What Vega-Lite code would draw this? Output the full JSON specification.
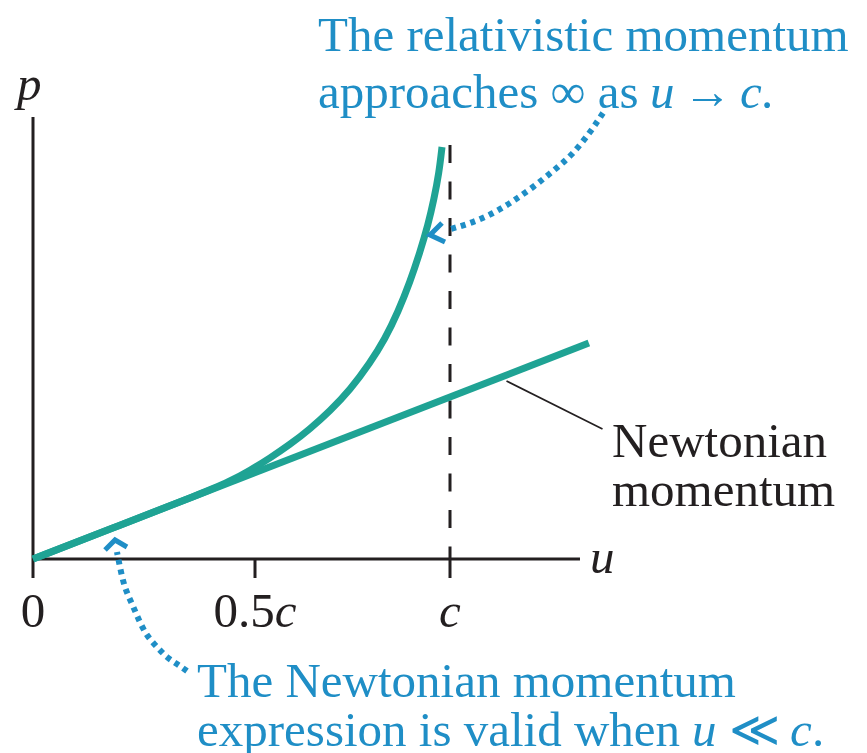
{
  "$schema": "https://vega.github.io/schema/vega-lite/v6.json",
  "width": 867,
  "height": 753,
  "autosize": "none",
  "padding": 0,
  "background": "white",
  "config": {"view": {"stroke": null}},
  "datasets": {
    "curves": [
      {"g": "relativistic", "i": 1, "u": 0, "p": 0},
      {"g": "relativistic", "i": 2, "u": 0.1959, "p": 0.21125},
      {"g": "relativistic", "i": 3, "u": 0.3761, "p": 0.4056},
      {"g": "relativistic", "i": 4, "u": 0.4437, "p": 0.4844},
      {"g": "relativistic", "i": 5, "u": 0.4887, "p": 0.5531},
      {"g": "relativistic", "i": 6, "u": 0.5385, "p": 0.63125},
      {"g": "relativistic", "i": 7, "u": 0.5897, "p": 0.7156},
      {"g": "relativistic", "i": 8, "u": 0.641, "p": 0.8125},
      {"g": "relativistic", "i": 9, "u": 0.6923, "p": 0.925},
      {"g": "relativistic", "i": 10, "u": 0.7436, "p": 1.05625},
      {"g": "relativistic", "i": 11, "u": 0.7949, "p": 1.225},
      {"g": "relativistic", "i": 12, "u": 0.8333, "p": 1.375},
      {"g": "relativistic", "i": 13, "u": 0.8667, "p": 1.54375},
      {"g": "relativistic", "i": 14, "u": 0.8974, "p": 1.73125},
      {"g": "relativistic", "i": 15, "u": 0.9231, "p": 1.91875},
      {"g": "relativistic", "i": 16, "u": 0.9436, "p": 2.0875},
      {"g": "relativistic", "i": 17, "u": 0.959, "p": 2.25},
      {"g": "relativistic", "i": 18, "u": 0.9718, "p": 2.4125},
      {"g": "relativistic", "i": 19, "u": 0.9795, "p": 2.575},
      {"g": "newtonian", "i": 1, "u": 0, "p": 0},
      {"g": "newtonian", "i": 2, "u": 1.356, "p": 1.35}
    ],
    "axisLines": [
      {"u": 0, "p": 0, "u2": 1.3333, "p2": 0},
      {"u": 0, "p": -0.11875, "u2": 0, "p2": 2.7625},
      {"u": 0.5, "p": 0, "u2": 0.5, "p2": -0.11875},
      {"u": 1, "p": 0, "u2": 1, "p2": -0.11875}
    ],
    "lightSpeed": [
      {"u": 1, "p": 2.5875, "u2": 1, "p2": 0}
    ],
    "leader": [
      {"u": 1.1449, "p": 1.1125, "u2": 1.391, "p2": 0.8125}
    ],
    "dottedPaths": [
      {"g": "top", "i": 1, "u": 1.3923, "p": 2.7875},
      {"g": "top", "i": 2, "u": 1.359, "p": 2.6688},
      {"g": "top", "i": 3, "u": 1.3128, "p": 2.5313},
      {"g": "top", "i": 4, "u": 1.2641, "p": 2.425},
      {"g": "top", "i": 5, "u": 1.2128, "p": 2.325},
      {"g": "top", "i": 6, "u": 1.1615, "p": 2.2375},
      {"g": "top", "i": 7, "u": 1.1103, "p": 2.1625},
      {"g": "top", "i": 8, "u": 1.0513, "p": 2.1},
      {"g": "top", "i": 9, "u": 0.9923, "p": 2.05625},
      {"g": "bottom", "i": 1, "u": 0.3468, "p": -0.7},
      {"g": "bottom", "i": 2, "u": 0.3243, "p": -0.65625},
      {"g": "bottom", "i": 3, "u": 0.3018, "p": -0.6125},
      {"g": "bottom", "i": 4, "u": 0.2793, "p": -0.55},
      {"g": "bottom", "i": 5, "u": 0.2568, "p": -0.475},
      {"g": "bottom", "i": 6, "u": 0.2387, "p": -0.38125},
      {"g": "bottom", "i": 7, "u": 0.223, "p": -0.28125},
      {"g": "bottom", "i": 8, "u": 0.2072, "p": -0.175},
      {"g": "bottom", "i": 9, "u": 0.1959, "p": -0.05},
      {"g": "bottom", "i": 10, "u": 0.1892, "p": 0.04375}
    ],
    "arrowHeads": [
      {"g": "top", "i": 1, "u": 0.9795, "p": 2.1},
      {"g": "top", "i": 2, "u": 0.9487, "p": 2.025},
      {"g": "top", "i": 3, "u": 0.9872, "p": 1.98125},
      {"g": "bottom", "i": 1, "u": 0.1622, "p": 0.05625},
      {"g": "bottom", "i": 2, "u": 0.1847, "p": 0.11875},
      {"g": "bottom", "i": 3, "u": 0.2117, "p": 0.075}
    ],
    "blueRoman": [
      {"t": "The relativistic momentum", "u": 0.6615, "p": 3.175},
      {"t": "approaches ∞ as", "u": 0.6615, "p": 2.81875},
      {"t": "→", "u": 1.5974, "p": 2.81875},
      {"t": ".", "u": 1.7974, "p": 2.81875},
      {"t": "The Newtonian momentum", "u": 0.3694, "p": -0.8625},
      {"t": "expression is valid when", "u": 0.3694, "p": -1.16875},
      {"t": "≪", "u": 1.7154, "p": -1.16875},
      {"t": ".", "u": 1.9282, "p": -1.16875}
    ],
    "blueItalic": [
      {"t": "u", "u": 1.5128, "p": 2.81875},
      {"t": "c", "u": 1.7436, "p": 2.81875},
      {"t": "u", "u": 1.6205, "p": -1.16875},
      {"t": "c", "u": 1.8718, "p": -1.16875}
    ],
    "blackRoman": [
      {"t": "Newtonian", "u": 1.4154, "p": 0.6375},
      {"t": "momentum", "u": 1.4154, "p": 0.33125},
      {"t": "0", "u": -0.0276, "p": -0.425},
      {"t": "0.5", "u": 0.4065, "p": -0.425}
    ],
    "blackItalic": [
      {"t": "p", "u": -0.036, "p": 2.86875},
      {"t": "u", "u": 1.359, "p": -0.0875},
      {"t": "c", "u": 0.5506, "p": -0.425},
      {"t": "c", "u": 0.9721, "p": -0.425}
    ]
  },
  "encoding": {
    "x": {
      "field": "u",
      "type": "quantitative",
      "axis": null,
      "scale": {"domain": [-0.074324, 0.5, 1, 2.069231], "range": [0, 255, 450, 867], "nice": false, "zero": false}
    },
    "y": {
      "field": "p",
      "type": "quantitative",
      "axis": null,
      "scale": {"domain": [-1.2125, 3.49375], "range": [753, 0], "nice": false, "zero": false}
    }
  },
  "layer": [
    {
      "data": {"name": "axisLines"},
      "mark": {"type": "rule", "color": "#231f20", "strokeWidth": 3},
      "encoding": {"x2": {"field": "u2"}, "y2": {"field": "p2"}}
    },
    {
      "data": {"name": "lightSpeed"},
      "mark": {"type": "rule", "color": "#231f20", "strokeWidth": 3, "strokeDash": [18, 18.5]},
      "encoding": {"x2": {"field": "u2"}, "y2": {"field": "p2"}}
    },
    {
      "data": {"name": "leader"},
      "mark": {"type": "rule", "color": "#231f20", "strokeWidth": 1.6},
      "encoding": {"x2": {"field": "u2"}, "y2": {"field": "p2"}}
    },
    {
      "data": {"name": "curves"},
      "mark": {"type": "line", "color": "#1fa394", "strokeWidth": 7, "interpolate": "basis", "strokeCap": "butt"},
      "encoding": {"detail": {"field": "g"}, "order": {"field": "i", "type": "quantitative"}}
    },
    {
      "data": {"name": "dottedPaths"},
      "mark": {"type": "line", "color": "#1f8ec6", "strokeWidth": 6, "interpolate": "natural", "strokeDash": [5, 5], "strokeCap": "butt"},
      "encoding": {"detail": {"field": "g"}, "order": {"field": "i", "type": "quantitative"}}
    },
    {
      "data": {"name": "arrowHeads"},
      "mark": {"type": "line", "color": "#1f8ec6", "strokeWidth": 5, "strokeJoin": "miter", "strokeCap": "butt"},
      "encoding": {"detail": {"field": "g"}, "order": {"field": "i", "type": "quantitative"}}
    },
    {
      "data": {"name": "blueRoman"},
      "mark": {"type": "text", "font": "Liberation Serif", "fontSize": 49, "color": "#1f8ec6", "align": "left", "baseline": "alphabetic"},
      "encoding": {"text": {"field": "t"}}
    },
    {
      "data": {"name": "blueItalic"},
      "mark": {"type": "text", "font": "Liberation Serif", "fontSize": 49, "fontStyle": "italic", "color": "#1f8ec6", "align": "left", "baseline": "alphabetic"},
      "encoding": {"text": {"field": "t"}}
    },
    {
      "data": {"name": "blackRoman"},
      "mark": {"type": "text", "font": "Liberation Serif", "fontSize": 49, "color": "#231f20", "align": "left", "baseline": "alphabetic"},
      "encoding": {"text": {"field": "t"}}
    },
    {
      "data": {"name": "blackItalic"},
      "mark": {"type": "text", "font": "Liberation Serif", "fontSize": 49, "fontStyle": "italic", "color": "#231f20", "align": "left", "baseline": "alphabetic"},
      "encoding": {"text": {"field": "t"}}
    }
  ]
}
